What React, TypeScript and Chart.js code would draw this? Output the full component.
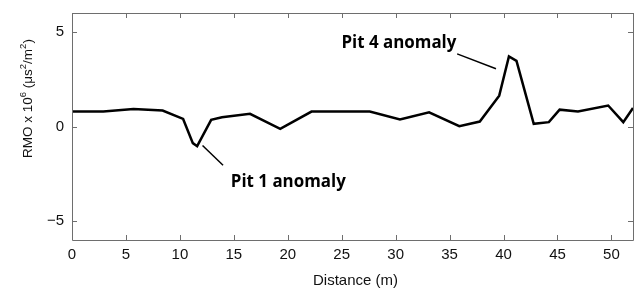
import React, { useEffect, useRef } from "react";
import { Chart, registerables } from "chart.js";

Chart.register(...registerables);

const distance = [0, 2.9, 5.7, 8.4, 10.3, 11.2, 11.6, 12.9, 13.9, 16.5, 19.3, 22.2, 27.6, 30.4, 33.1, 35.9, 37.8, 39.6, 40.5, 41.2, 42.8, 44.2, 45.2, 46.9, 49.7, 51.1, 52];
const rmo = [0.79, 0.79, 0.93, 0.84, 0.4, -0.88, -1.04, 0.35, 0.49, 0.67, -0.12, 0.79, 0.79, 0.37, 0.75, 0.02, 0.26, 1.63, 3.7, 3.47, 0.14, 0.23, 0.89, 0.79, 1.11, 0.23, 0.98];

const xTicks = [0, 5, 10, 15, 20, 25, 30, 35, 40, 45, 50];
const yTicks = [-5, 0, 5];

const annotationLabels = ["Pit 4 anomaly", "Pit 1 anomaly"];
// label anchor (data coords) and leader line endpoints (data coords)
const annotationText = [
  { x: 30.3, y: 4.42 },
  { x: 20.05, y: -2.95 },
];
const annotationLeader = [
  { x1: 35.7, y1: 3.84, x2: 39.3, y2: 3.05 },
  { x1: 12.1, y1: -1.0, x2: 14.0, y2: -2.05 },
];
const annotationWidth = 115;

const axisColor = "#6e6e6e";

const boxPlugin = {
  id: "boxTicks",
  afterDraw(chart: any) {
    const { ctx, chartArea: a, scales } = chart;
    const xs = scales.x, ys = scales.y;
    ctx.save();
    ctx.strokeStyle = axisColor;
    ctx.lineWidth = 1;
    ctx.beginPath();
    ctx.moveTo(a.left + 0.5, a.top + 0.5);
    ctx.lineTo(a.right + 0.5, a.top + 0.5);
    ctx.moveTo(a.left + 0.5, a.top);
    ctx.lineTo(a.left + 0.5, a.bottom + 0.5);
    ctx.lineTo(a.right + 0.5, a.bottom + 0.5);
    ctx.moveTo(a.right + 0.5, a.top);
    ctx.lineTo(a.right + 0.5, a.bottom + 0.5);
    const tl = 5;
    xTicks.forEach((v) => {
      const px = Math.round(xs.getPixelForValue(v)) + 0.5;
      ctx.moveTo(px, a.bottom);
      ctx.lineTo(px, a.bottom - tl);
      ctx.moveTo(px, a.top);
      ctx.lineTo(px, a.top + tl);
    });
    yTicks.forEach((v) => {
      const py = Math.round(ys.getPixelForValue(v)) + 0.5;
      ctx.moveTo(a.left, py);
      ctx.lineTo(a.left + tl, py);
      ctx.moveTo(a.right, py);
      ctx.lineTo(a.right - tl, py);
    });
    ctx.stroke();

    // annotations
    ctx.strokeStyle = "#000";
    ctx.lineWidth = 1.5;
    ctx.fillStyle = "#000";
    annotationLeader.forEach((l) => {
      ctx.beginPath();
      ctx.moveTo(xs.getPixelForValue(l.x1), ys.getPixelForValue(l.y1));
      ctx.lineTo(xs.getPixelForValue(l.x2), ys.getPixelForValue(l.y2));
      ctx.stroke();
    });
    ctx.font = "bold 17px 'Open Sans'";
    ctx.textBaseline = "middle";
    ctx.textAlign = "left";
    annotationLabels.forEach((t, i) => {
      const p = annotationText[i];
      const cx = xs.getPixelForValue(p.x);
      const cy = ys.getPixelForValue(p.y);
      const w = ctx.measureText(t).width;
      const s = annotationWidth / w;
      ctx.save();
      ctx.translate(cx - annotationWidth / 2, cy);
      ctx.scale(s, 1);
      ctx.fillText(t, 0, 0);
      ctx.restore();
    });

    // x title
    ctx.fillStyle = "#111";
    ctx.font = "15px 'Liberation Sans'";
    ctx.textAlign = "center";
    ctx.textBaseline = "middle";
    ctx.fillText("Distance (m)", (a.left + a.right) / 2 + 3, 281);

    // y title with superscripts
    const parts: [string, boolean][] = [
      ["RMO x 10", false],
      ["6", true],
      [" (\u03bcs", false],
      ["2", true],
      ["/m", false],
      ["2", true],
      [")", false],
    ];
    const big = "13.5px 'Liberation Sans'";
    const small = "9.5px 'Liberation Sans'";
    ctx.save();
    ctx.translate(32, 158);
    ctx.rotate(-Math.PI / 2);
    ctx.textAlign = "left";
    ctx.textBaseline = "alphabetic";
    let xpos = 0;
    parts.forEach(([t, sup]) => {
      ctx.font = sup ? small : big;
      ctx.fillText(t, xpos, sup ? -6 : 0);
      xpos += ctx.measureText(t).width;
    });
    ctx.restore();
    ctx.restore();
  },
};

export default function App() {
  const ref = useRef<HTMLCanvasElement>(null);
  useEffect(() => {
    if (!ref.current) return;
    const chart = new Chart(ref.current, {
      type: "line",
      data: {
        datasets: [
          {
            data: distance.map((d, i) => ({ x: d, y: rmo[i] })),
            borderColor: "#000",
            borderWidth: 2.5,
            pointRadius: 0,
            tension: 0,
            fill: false,
          },
        ],
      },
      options: {
        animation: false,
        responsive: false,
        layout: { padding: { top: 13, right: 1, left: 0, bottom: 0 } },
        plugins: { legend: { display: false }, tooltip: { enabled: false } },
        scales: {
          x: {
            type: "linear",
            min: 0,
            max: 52,
            afterBuildTicks: (s: any) => {
              s.ticks = xTicks.map((v) => ({ value: v }));
            },
            afterFit: (s: any) => {
              s.height = 48;
              s.paddingLeft = 0;
              s.paddingRight = 0;
            },
            grid: { display: false, drawTicks: false },
            border: { display: false },
            ticks: {
              padding: 6,
              color: "#111",
              font: { family: "'Liberation Sans'", size: 15 },
              maxRotation: 0,
              autoSkip: false,
            },
          },
          y: {
            type: "linear",
            min: -6,
            max: 6,
            afterBuildTicks: (s: any) => {
              s.ticks = yTicks.map((v) => ({ value: v }));
            },
            afterFit: (s: any) => {
              s.width = 72;
              s.paddingTop = 0;
              s.paddingBottom = 0;
            },
            grid: { display: false, drawTicks: false },
            border: { display: false },
            ticks: {
              padding: 8,
              color: "#111",
              font: { family: "'Liberation Sans'", size: 15 },
              callback: (v: any) => (Number(v) < 0 ? "\u2212" + Math.abs(Number(v)) : String(v)),
            },
          },
        },
      },
      plugins: [boxPlugin],
    });
    return () => chart.destroy();
  }, []);
  return (
    <div style={{ position: "absolute", left: 0, top: 0, width: 634, height: 288, background: "#fff" }}>
      <canvas ref={ref} width={634} height={288} />
    </div>
  );
}
